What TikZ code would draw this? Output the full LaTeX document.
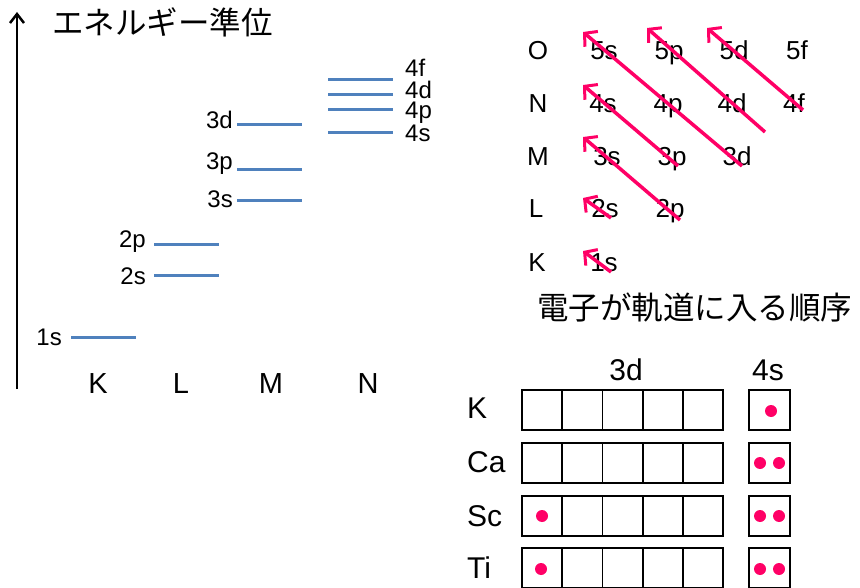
\documentclass[tikz,border=0pt]{standalone}
\usepackage{fontspec}
\setmainfont{Liberation Sans}
\newfontfamily\jpfont{Noto Sans CJK JP}
\usetikzlibrary{arrows.meta}
\definecolor{lvlblue}{RGB}{79,129,189}
\definecolor{hotpink}{RGB}{255,0,102}
\begin{document}
\begin{tikzpicture}[x=1pt,y=-1pt,
  lvl/.style={draw=lvlblue,line width=3pt},
  lab/.style={font=\fontsize{24}{24}\selectfont,inner sep=0pt},
  shell/.style={font=\fontsize{29}{29}\selectfont,inner sep=0pt,anchor=base},
  tab/.style={font=\fontsize{26}{26}\selectfont,inner sep=0pt,anchor=base},
  big/.style={font=\fontsize{30}{30}\selectfont,inner sep=0pt,anchor=base},
  jp/.style={font=\jpfont\fontsize{31.5}{31.5}\selectfont,inner sep=0pt,anchor=west},
  order/.style={draw=hotpink,line width=3.5pt,-{Straight Barb[length=9pt,width=20pt,line width=3pt]}},
  cell/.style={draw=black,line width=1.8pt,minimum width=40.2pt,minimum height=40pt,inner sep=0pt,outer sep=0pt},
  dot/.style={fill=hotpink,draw=none}]
\useasboundingbox (0,0) rectangle (860,588);
\clip (0,0) rectangle (860,588);
% ---------- energy level diagram ----------
\coordinate (axb) at (17,389);
\coordinate (axt) at (17,12);
\draw[line width=2.5pt,-{Straight Barb[length=9pt,width=14pt,line width=2.5pt]}] (axb) -- (axt);
\node[jp] (title) at (52,22) {エネルギー準位};
% levels
\draw[lvl] (71,337) -- (136,337);
\draw[lvl] (154,276) -- (219,276);
\draw[lvl] (154,245) -- (219,245);
\draw[lvl] (237,201) -- (302,201);
\draw[lvl] (237,170) -- (302,170);
\draw[lvl] (237,125) -- (302,125);
\draw[lvl] (328,133) -- (393,133);
\draw[lvl] (328,110) -- (393,110);
\draw[lvl] (328,95) -- (393,95);
\draw[lvl] (328,80) -- (393,80);
% level labels
\node[lab,anchor=base east] (l1s) at (62,345) {1s};
\node[lab,anchor=base east] (l2s) at (146,285) {2s};
\node[lab,anchor=base east] (l2p) at (146,248) {2p};
\node[lab,anchor=base east] (l3s) at (233,208) {3s};
\node[lab,anchor=base east] (l3p) at (233,170) {3p};
\node[lab,anchor=base east] (l3d) at (233,129) {3d};
\node[lab,anchor=base west] (l4f) at (405,77) {4f};
\node[lab,anchor=base west] (l4d) at (405,99) {4d};
\node[lab,anchor=base west] (l4p) at (405,119) {4p};
\node[lab,anchor=base west] (l4s) at (405,142) {4s};
% shells
\node[shell] (sK) at (98,393) {K};
\node[shell] (sL) at (181,393) {L};
\node[shell] (sM) at (271,393) {M};
\node[shell] (sN) at (368,393) {N};
% ---------- filling order ----------
\node[tab] (rO) at (538,60) {O};
\node[tab] (rN) at (538,113) {N};
\node[tab] (rM) at (538,166) {M};
\node[tab] (rL) at (536,218) {L};
\node[tab] (rK) at (537,272) {K};
\node[tab] (o5s) at (604,60) {5s};
\node[tab] (o5p) at (669,60) {5p};
\node[tab] (o5d) at (734,60) {5d};
\node[tab] (o5f) at (797,60) {5f};
\node[tab] (o4s) at (603,113) {4s};
\node[tab] (o4p) at (668,113) {4p};
\node[tab] (o4d) at (732,113) {4d};
\node[tab] (o4f) at (794,113) {4f};
\node[tab] (o3s) at (607,166) {3s};
\node[tab] (o3p) at (672,166) {3p};
\node[tab] (o3d) at (737,166) {3d};
\node[tab] (o2s) at (605,218) {2s};
\node[tab] (o2p) at (670,218) {2p};
\node[tab] (o1s) at (604,272) {1s};
\coordinate (t1) at (611,272); \coordinate (h1) at (583,251);
\coordinate (t2) at (611,218); \coordinate (h2) at (583,198);
\coordinate (t3) at (680,220); \coordinate (h3) at (583,137);
\coordinate (t4) at (678,166); \coordinate (h4) at (583,85);
\coordinate (t5) at (742,166); \coordinate (h5) at (583,32);
\coordinate (t6) at (765,132); \coordinate (h6) at (647,28);
\coordinate (t7) at (803,110); \coordinate (h7) at (707,28);
\foreach \i in {1,...,7} {\draw[order] (t\i) -- (h\i);}
\node[jp] (order) at (537,307) {電子が軌道に入る順序};
% ---------- configuration boxes ----------
\node[big] (h3d) at (626,380) {3d};
\node[big] (h4s) at (768,380) {4s};
\node[big,anchor=base west] (eK) at (467,418) {K};
\node[big,anchor=base west] (eCa) at (467,472) {Ca};
\node[big,anchor=base west] (eSc) at (467,526) {Sc};
\node[big,anchor=base west] (eTi) at (467,578) {Ti};
\foreach \r/\y in {1/410,2/463,3/516,4/568} {
  \foreach \c in {1,...,5} {
    \node[cell] (d\r\c) at ({522+40.2*(\c-0.5)},\y) {};
  }
  \node[cell,minimum width=41pt] (s\r) at (769.5,\y) {};
}
\fill[dot] (771,411) circle (6pt);
\fill[dot] (760,463) circle (6pt); \fill[dot] (779,463) circle (6pt);
\fill[dot] (542,516) circle (6pt);
\fill[dot] (760,516) circle (6pt); \fill[dot] (779,516) circle (6pt);
\fill[dot] (541,569) circle (6pt);
\fill[dot] (760,569) circle (6pt); \fill[dot] (779,569) circle (6pt);
\end{tikzpicture}
\end{document}
